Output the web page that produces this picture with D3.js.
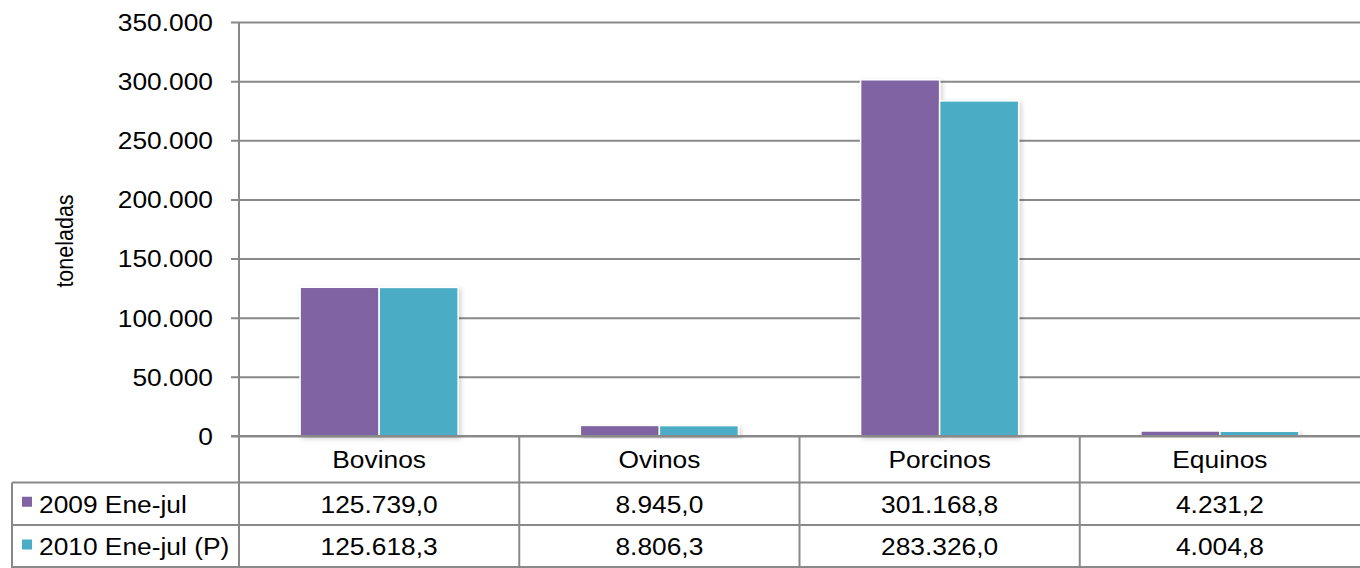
<!DOCTYPE html>
<html>
<head>
<meta charset="utf-8">
<script src="https://cdn.jsdelivr.net/npm/d3@7"></script>
<style>
  html, body { margin: 0; padding: 0; background: #fff; }
  svg { display: block; font-family: "Liberation Sans", Arial, sans-serif; }
</style>
</head>
<body>
<svg id="chart" width="1360" height="568"></svg>
<script>
const categories = ["Bovinos", "Ovinos", "Porcinos", "Equinos"];
const seriesNames = ["2009 Ene-jul", "2010 Ene-jul (P)"];
const values2009 = [125739.0, 8945.0, 301168.8, 4231.2];
const values2010 = [125618.3, 8806.3, 283326.0, 4004.8];
const yTicks = [0, 50000, 100000, 150000, 200000, 250000, 300000, 350000];
const colors = ["#8064A2", "#4BACC6"];
const yTitle = "toneladas";

(function () {
const seriesValues = [values2009, values2010];
const pLeft = 239, pRight = 1360, pTop = 22, pBottom = 436;
const catRowBottom = 482.5, row1Bottom = 525, tableBottom = 568, tableLeft = 12;
const gridColor = "#898989";
const FS = 24.5, SX = 1.075;

const loc = d3.formatLocale({decimal: ",", thousands: ".", grouping: [3], currency: ["", ""]});
const fmtTick = loc.format(",.0f");
const fmtVal = loc.format(",.1f");

const svg = d3.select("#chart");
const defs = svg.append("defs");
const f = defs.append("filter").attr("id", "shadow").attr("x", "-10%").attr("y", "-10%").attr("width", "130%").attr("height", "130%");
f.append("feDropShadow").attr("dx", 2).attr("dy", 2).attr("stdDeviation", 2.5).attr("flood-color", "#000").attr("flood-opacity", 0.18);

function label(px, py, txt, anchor) {
  return svg.append("text").attr("transform", `translate(${px},${py}) scale(${SX},1)`)
    .attr("dy", "0.36em").attr("text-anchor", anchor).attr("font-size", FS).attr("fill", "#000").text(txt);
}

const y = d3.scaleLinear().domain([0, 350000]).range([pBottom, pTop]);
const x = d3.scaleBand().domain(categories).range([pLeft, pRight]).paddingInner(0.436).paddingOuter(0.218);
const xs = d3.scaleBand().domain(d3.range(seriesNames.length)).range([0, x.bandwidth()]).padding(0);
const colStep = x.step();
const colEdges = categories.map((c, i) => pLeft + i * colStep);

// gridlines via axis
const yAxis = d3.axisLeft(y).tickValues(yTicks).tickFormat(fmtTick).tickSize(0).tickPadding(0);
const gAxis = svg.append("g").attr("transform", `translate(${pLeft - 8},0)`).call(yAxis);
gAxis.select(".domain").remove();
gAxis.selectAll(".tick line").attr("stroke", gridColor).attr("stroke-width", 2).attr("x1", 0).attr("x2", pRight - pLeft + 8);
gAxis.selectAll(".tick text").remove();
yTicks.forEach(t => label(pLeft - 26, y(t), fmtTick(t), "end"));

svg.append("text").attr("transform", `translate(73,241) scale(${SX},1) rotate(-90)`)
  .attr("text-anchor", "middle").attr("font-size", 21.5).attr("fill", "#000").text(yTitle);

const gBars = svg.append("g");
categories.forEach((c, i) => {
  seriesValues.forEach((vals, s) => {
    gBars.append("rect")
      .attr("x", x(c) + xs(s))
      .attr("y", y(vals[i]))
      .attr("width", xs.bandwidth())
      .attr("height", y(0) - y(vals[i]))
      .attr("fill", colors[s])
      .attr("stroke", "#fff").attr("stroke-width", 1.5)
      .attr("filter", "url(#shadow)");
  });
});

svg.append("line").attr("x1", pLeft - 8).attr("x2", pRight).attr("y1", y(0)).attr("y2", y(0)).attr("stroke", gridColor).attr("stroke-width", 2);

const gT = svg.append("g").attr("stroke", gridColor).attr("stroke-width", 2);
gT.append("line").attr("x1", pLeft).attr("x2", pLeft).attr("y1", pTop).attr("y2", tableBottom);
colEdges.slice(1).forEach(xe => gT.append("line").attr("x1", xe).attr("x2", xe).attr("y1", pBottom).attr("y2", tableBottom));
gT.append("line").attr("x1", tableLeft).attr("x2", pRight).attr("y1", catRowBottom).attr("y2", catRowBottom);
gT.append("line").attr("x1", tableLeft).attr("x2", pRight).attr("y1", row1Bottom).attr("y2", row1Bottom);
gT.append("line").attr("x1", tableLeft).attr("x2", pRight).attr("y1", tableBottom - 1).attr("y2", tableBottom - 1);
gT.append("line").attr("x1", tableLeft).attr("x2", tableLeft).attr("y1", catRowBottom).attr("y2", tableBottom);

categories.forEach((c, i) => label(colEdges[i] + colStep / 2, (pBottom + catRowBottom) / 2, c, "middle"));

const rowMids = [(catRowBottom + row1Bottom) / 2, (row1Bottom + tableBottom) / 2];
seriesValues.forEach((vals, s) => {
  const ym = rowMids[s];
  svg.append("rect").attr("x", 22).attr("y", ym - 7).attr("width", 10).attr("height", 10).attr("fill", colors[s]);
  label(39, ym, seriesNames[s], "start");
  vals.forEach((v, i) => label(colEdges[i] + colStep / 2, ym, fmtVal(v), "middle"));
});
})();
</script>
</body>
</html>
